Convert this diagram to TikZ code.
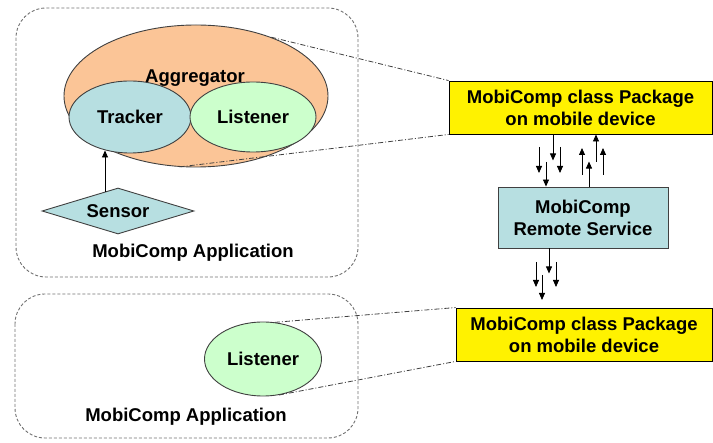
\documentclass[tikz,border=0pt]{standalone}
\usepackage{fontspec}
\setmainfont{Liberation Sans}
\usetikzlibrary{shapes.geometric,arrows.meta,calc}
\definecolor{peach}{HTML}{FBC597}
\definecolor{paleblue}{HTML}{B7DFE1}
\definecolor{palegreen}{HTML}{CCFFCC}
\definecolor{edgegray}{HTML}{404040}
\definecolor{boxgray}{HTML}{707070}
\tikzset{
  lbl/.style={font=\fontsize{18.5}{22}\selectfont\bfseries, text=black, align=center, inner sep=0},
  blob/.style={ellipse, draw=edgegray, line width=0.9pt, inner sep=0, lbl},
  pkgbox/.style={rectangle, draw=black, line width=0.9pt, fill=yellow, lbl},
  appbox/.style={draw=boxgray, line width=0.9pt, dash pattern=on 3pt off 2pt, rounded corners=30pt},
  linkline/.style={draw=edgegray, line width=0.8pt, dash pattern=on 5pt off 2pt on 1pt off 2pt},
  flow/.style={draw=black, line width=0.8pt, -{Triangle[length=7pt,width=6pt]}},
}
\begin{document}
\begin{tikzpicture}[x=1pt,y=-1pt]
\useasboundingbox (0,0) rectangle (713,443);

% application containers
\draw[appbox] (16,8) rectangle (358,277);
\draw[appbox] (15,294) rectangle (358,438);

% first application: aggregator with tracker and listener
\node[blob, fill=peach, minimum width=264pt, minimum height=142pt] (agg) at (196,96) {};
\node[lbl] (aggtext) at (195,78) {Aggregator};
\node[blob, fill=paleblue, minimum width=122pt, minimum height=72pt] (trk) at (130,117) {Tracker};
\node[blob, fill=palegreen, minimum width=126pt, minimum height=70pt] (lis) at (253,117) {Listener};
\node[diamond, draw=edgegray, line width=0.9pt, fill=paleblue, aspect=3.3,
      minimum width=152pt, minimum height=46pt, lbl] (sen) at (118,211) {Sensor};
\node[lbl] (app1) at (193,253) {MobiComp Application};

\coordinate (sx) at (105,192);
\draw[flow] (sx) -- (sx |- trk.234);

% second application: a lone listener
\node[blob, fill=palegreen, minimum width=117pt, minimum height=74pt] (lis2) at (263,359) {Listener};
\node[lbl] (app2) at (186,417) {MobiComp Application};

% packages and remote service
\node[pkgbox, minimum width=263pt, minimum height=53pt] (pkg1) at (580.5,107.5)
  {MobiComp class Package\\on mobile device};
\node[rectangle, draw=edgegray, line width=0.9pt, fill=paleblue, lbl,
      minimum width=170pt, minimum height=61pt] (rem) at (583,217.5)
  {MobiComp\\Remote Service};
\node[pkgbox, minimum width=256pt, minimum height=53pt] (pkg2) at (584,334.5)
  {MobiComp class Package\\on mobile device};

% dash-dot links from components to their packages
\draw[linkline] (agg.38) -- (pkg1.north west);
\draw[linkline] (agg.-103) -- (pkg1.south west);
\draw[linkline] (lis2.72) -- (pkg2.north west);
\draw[linkline] (lis2.-66) -- (pkg2.south west);

% requests from the package down to the service
\draw[flow] (pkg1.south -| 553,0) -- ++(0,26);
\draw[flow] (539,147) -- ++(0,26);
\draw[flow] (560,147) -- ++(0,26);
\draw[flow] (546,162) -- (rem.north -| 546,0);
% replies from the service up to the package
\draw[flow] (582,175) -- ++(0,-27);
\draw[flow] (rem.north -| 589,0) -- ++(0,-25);
\draw[flow] (596,162) -- (pkg1.south -| 596,0);
\draw[flow] (603,175) -- ++(0,-27);

% notifications from the service to the second package
\draw[flow] (rem.south -| 549,0) -- ++(0,25);
\draw[flow] (536,262) -- ++(0,25);
\draw[flow] (556,262) -- ++(0,25);
\draw[flow] (542,275) -- ++(0,25);
\end{tikzpicture}
\end{document}
